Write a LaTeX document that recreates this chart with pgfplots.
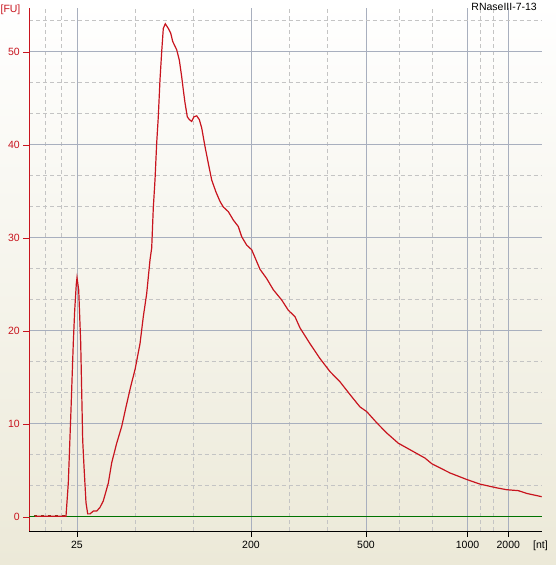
\documentclass[border=0pt]{standalone}
\usepackage{fontspec}
\setmainfont{Liberation Sans}
\usepackage{pgfplots}
\usepackage{pgfplotstable}
\pgfplotsset{compat=1.18}
\definecolor{bgbot}{RGB}{236,233,216}
\definecolor{fured}{RGB}{200,20,30}
\definecolor{gridmaj}{RGB}{168,175,190}
\definecolor{gridmin}{RGB}{196,196,196}
\definecolor{zgreen}{RGB}{0,115,0}
\definecolor{brownish}{RGB}{130,60,20}
\pgfplotstableread{
x y
35 0.05
66 0.05
68.3 3.6
71 11.5
73.3 18.7
74.7 22.2
76.3 25.0
77 25.7
78.7 24.4
80.7 18.7
82.7 8.2
84 5.4
86 1.5
87.7 0.3
90 0.3
93.3 0.6
96.7 0.6
100 1.0
103.3 1.7
108.3 3.6
111.7 5.8
116.7 7.9
121.7 9.7
126 11.8
130.7 14.0
135 15.8
140 18.6
143.3 21.5
146.7 24.0
150 27.6
151.7 28.9
153.3 33.2
155 36.2
156.7 40.2
158.3 43.0
160 47.0
161.7 50.0
163.3 52.5
165.3 53.0
168.3 52.5
170.7 52.0
172.7 51.1
176.7 50.2
179.3 49.1
181.7 47.3
183.3 45.9
185 44.5
187.3 43.0
189.3 42.7
191.7 42.5
194 43.0
196.7 43.1
199.3 42.7
201.7 41.8
205 39.8
208.3 38.0
211.7 36.2
216 34.9
220 33.9
223.3 33.3
228.3 32.8
233.3 31.9
238.3 31.2
241.7 30.1
246.7 29.2
251.7 28.7
260 26.6
266.7 25.6
273.3 24.4
281.7 23.3
288.3 22.2
295 21.5
300 20.3
310 18.6
320 17.0
330 15.6
340 14.5
351.7 12.9
360 11.8
366.7 11.3
376.7 10.1
386.7 9.0
398.3 7.9
410 7.2
425 6.3
431.7 5.7
450 4.7
466.7 4.0
480 3.5
496.7 3.1
506.7 2.9
518.3 2.8
526.7 2.5
541.7 2.15
}\fudata
\begin{document}
\fontsize{10.5}{12}\selectfont
\begin{tikzpicture}
\shade[top color=white,bottom color=bgbot] (0pt,0pt) rectangle (556pt,565pt);
\useasboundingbox (0pt,0pt) rectangle (556pt,565pt);
\begin{axis}[
  at={(29.5pt,34pt)}, anchor=south west,
  x=1pt, y=9.3pt,
  xmin=29.5, xmax=542, ymin=-1.54, ymax=54.7,
  axis x line=bottom, axis y line=left,
  axis line style={-},
  x axis line style={black},
  y axis line style={fured},
  xtick={77,251,366,467.5,508.3},
  xticklabels={25,200,500,1000,2000},
  minor xtick={45.7,61.3,135.3,193.3,289.3,327.7,399.3,432.3,480.5,493.3},
  ytick={0,10,20,30,40,50},
  minor ytick={3.333,6.667,13.333,16.667,23.333,26.667,33.333,36.667,43.333,46.667,53.333},
  tick align=outside,
  major tick length=6pt,
  minor tick length=0pt,
  x tick style={black},
  y tick style={fured},
  grid=both,
  major grid style={gridmaj, line width=0.9pt},
  minor grid style={gridmin, dash pattern=on 4pt off 3pt, line width=0.8pt},
  /pgf/number format/assume math mode=true,
  tick label style={font=\fontsize{10.5}{12}\selectfont},
  yticklabel style={text=fured},
  xticklabel style={text=black},
  clip=false,
]
\addplot[zgreen, line width=1pt] coordinates {(29.5,0) (542,0)};
\addplot[brownish, line width=1.2pt, dash pattern=on 3pt off 4pt] coordinates {(34,0.12) (66,0.12)};
\addplot[fured, line width=1.2pt] table[x=x,y=y] {\fudata};
\end{axis}
\node[text=fured, anchor=center] at (10.5pt,555pt) {[FU]};
\node[anchor=east, inner sep=0pt] at (537pt,558pt) {RNaseIII-7-13};
\node[anchor=center] at (540.5pt,19.3pt) {[nt]};
\end{tikzpicture}
\end{document}
